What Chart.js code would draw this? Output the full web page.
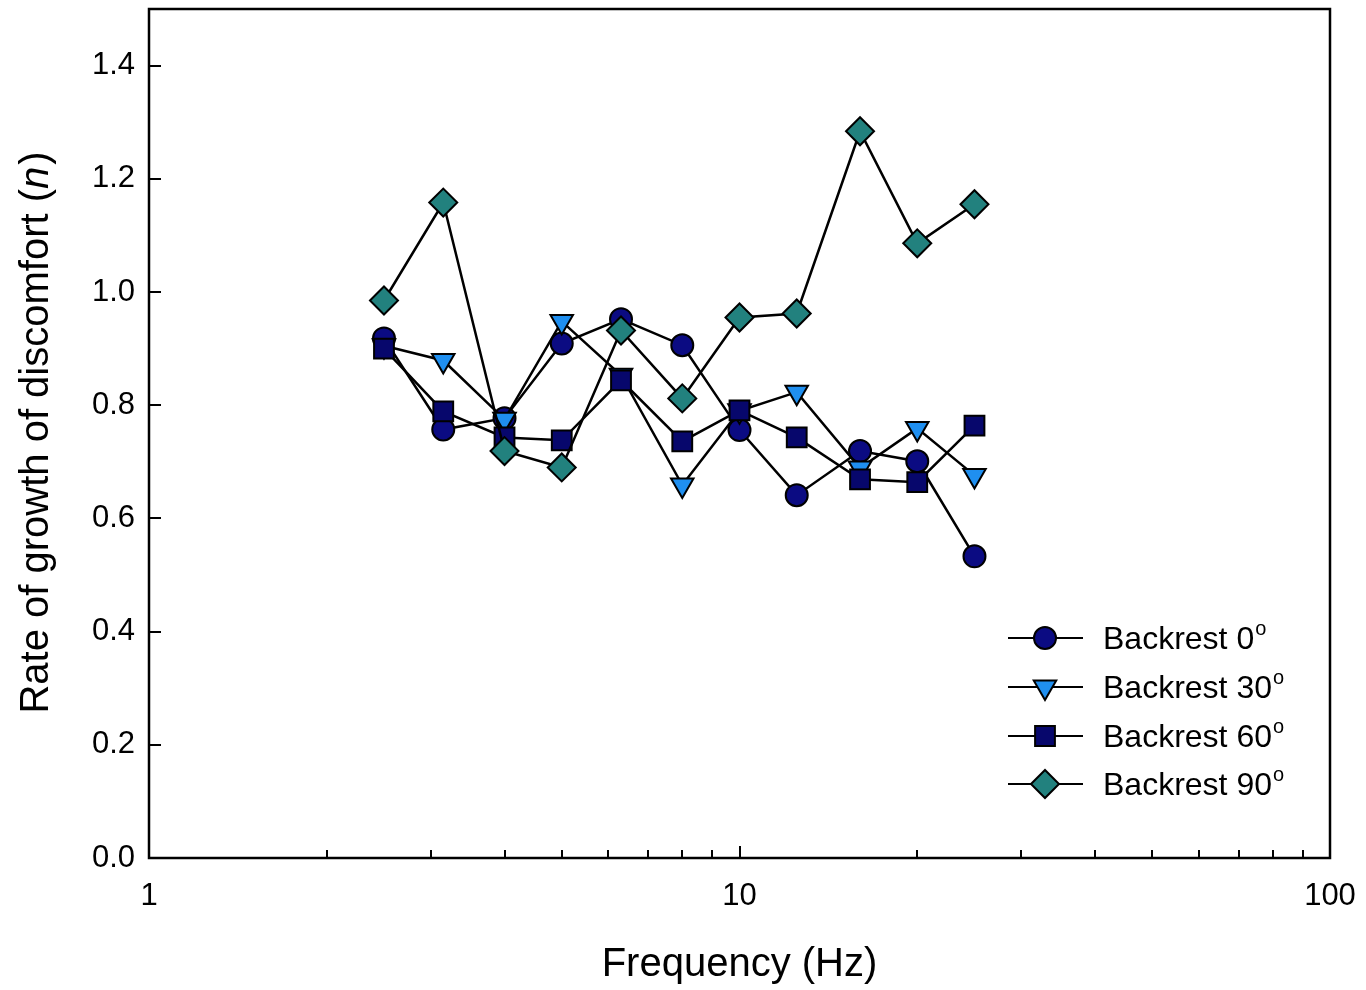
<!DOCTYPE html>
<html>
<head>
<meta charset="utf-8">
<script src="https://cdn.jsdelivr.net/npm/chart.js@4/dist/chart.umd.min.js"></script>
<style>
  html, body { margin: 0; padding: 0; background: #fff; }
  #wrap { width: 1366px; height: 990px; }
</style>
</head>
<body>
<div id="wrap"><canvas id="c" width="1366" height="990"></canvas></div>
<script>
// Third-octave centre frequencies (Hz)
const frequencies = [2.5, 3.15, 4, 5, 6.3, 8, 10, 12.5, 16, 20, 25];

// Rate of growth of discomfort, n, for each backrest inclination
const backrest0  = [0.918, 0.757, 0.777, 0.909, 0.952, 0.906, 0.756, 0.641, 0.719, 0.701, 0.533];
const backrest30 = [0.905, 0.879, 0.775, 0.948, 0.853, 0.659, 0.790, 0.823, 0.689, 0.759, 0.676];
const backrest60 = [0.900, 0.789, 0.743, 0.738, 0.844, 0.736, 0.791, 0.743, 0.669, 0.664, 0.764];
const backrest90 = [0.985, 1.158, 0.719, 0.690, 0.932, 0.812, 0.955, 0.962, 1.284, 1.086, 1.155];

const seriesNames = ['Backrest 0', 'Backrest 30', 'Backrest 60', 'Backrest 90'];
const xTickValues = [1, 10, 100];
const yTickValues = [0, 0.2, 0.4, 0.6, 0.8, 1.0, 1.2, 1.4];

const FONT = '"Liberation Sans", Arial, Helvetica, sans-serif';

function pts(values) {
  return frequencies.map((f, i) => ({ x: f, y: values[i] }));
}

function series(label, values, style, fill, radius, rotation, order) {
  return {
    label, data: pts(values),
    borderColor: '#000', borderWidth: 2.5,
    pointStyle: style, pointRotation: rotation,
    pointRadius: radius, pointHoverRadius: radius,
    pointBackgroundColor: fill, pointBorderColor: '#000', pointBorderWidth: 2,
    tension: 0, fill: false, order
  };
}

const datasets = [
  series(seriesNames[0], backrest0,  'circle',   '#0b0b82', 11,   0,   4),
  series(seriesNames[1], backrest30, 'triangle', '#1f8ff0', 13,   180, 3),
  series(seriesNames[2], backrest60, 'rect',     '#07076c', 14,   0,   2),
  series(seriesNames[3], backrest90, 'rectRot',  '#22817e', 14,   0,   1)
];

// Frame, inward ticks, axis titles and the in-plot legend
const decorations = {
  id: 'decorations',
  afterDraw(chart) {
    const ctx = chart.ctx;
    const a = chart.chartArea;
    const xs = chart.scales.x, ys = chart.scales.y;
    ctx.save();
    ctx.strokeStyle = '#000';
    ctx.lineWidth = 2.5;
    ctx.strokeRect(a.left, a.top, a.right - a.left, a.bottom - a.top);

    // y ticks (inward)
    ctx.lineWidth = 2;
    ctx.beginPath();
    yTickValues.forEach(v => {
      const py = Math.round(ys.getPixelForValue(v));
      ctx.moveTo(a.left, py); ctx.lineTo(a.left + 12, py);
    });
    // x ticks (inward), minor at 2..9 per decade
    for (let dec = 1; dec < 100; dec *= 10) {
      for (let k = 1; k <= 10; k++) {
        const v = dec * k;
        const px = Math.round(xs.getPixelForValue(v));
        const len = (k === 1 || k === 10) ? 12 : 8;
        ctx.moveTo(px, a.bottom); ctx.lineTo(px, a.bottom - len);
      }
    }
    ctx.stroke();

    // axis titles
    ctx.fillStyle = '#000';
    ctx.font = '40px ' + FONT;
    ctx.textAlign = 'center';
    ctx.textBaseline = 'middle';
    ctx.fillText('Frequency (Hz)', (a.left + a.right) / 2, 965);

    ctx.save();
    ctx.translate(37, (a.top + a.bottom) / 2);
    ctx.rotate(-Math.PI / 2);
    const pre = 'Rate of growth of discomfort (';
    const it = 'n';
    const post = ')';
    ctx.font = '40px ' + FONT;
    const wPre = ctx.measureText(pre).width;
    const wPost = ctx.measureText(post).width;
    ctx.font = 'italic 40px ' + FONT;
    const wIt = ctx.measureText(it).width;
    let x0 = -(wPre + wIt + wPost) / 2;
    ctx.textAlign = 'left';
    ctx.font = '40px ' + FONT;
    ctx.fillText(pre, x0, 0);
    ctx.font = 'italic 40px ' + FONT;
    ctx.fillText(it, x0 + wPre, 0);
    ctx.font = '40px ' + FONT;
    ctx.fillText(post, x0 + wPre + wIt + 2, 0);
    ctx.restore();

    // legend
    const rowY = [638, 687, 736, 784];
    chart.data.datasets.forEach((ds, i) => {
      const y = rowY[i];
      ctx.strokeStyle = '#000';
      ctx.lineWidth = 2;
      ctx.beginPath();
      ctx.moveTo(1008, y); ctx.lineTo(1083, y);
      ctx.stroke();
      ctx.fillStyle = ds.pointBackgroundColor;
      ctx.strokeStyle = '#000';
      ctx.lineWidth = 2;
      Chart.helpers.drawPoint(ctx, {
        pointStyle: ds.pointStyle, rotation: ds.pointRotation,
        radius: ds.pointRadius, borderWidth: 2
      }, 1045, y);
      ctx.fillStyle = '#000';
      ctx.font = '32px ' + FONT;
      ctx.textAlign = 'left';
      ctx.textBaseline = 'middle';
      ctx.fillText(ds.label, 1103, y + 2);
      const w = ctx.measureText(ds.label).width;
      ctx.font = '20px ' + FONT;
      ctx.fillText('o', 1103 + w + 1, y - 9);
    });
    ctx.restore();
  }
};

new Chart(document.getElementById('c'), {
  type: 'line',
  data: { datasets },
  options: {
    responsive: false,
    animation: false,
    devicePixelRatio: 1,
    layout: { autoPadding: false, padding: { top: 9, right: 36, left: 0, bottom: 0 } },
    plugins: { legend: { display: false }, tooltip: { enabled: false } },
    scales: {
      x: {
        type: 'logarithmic', min: 1, max: 100,
        afterBuildTicks: s => { s.ticks = xTickValues.map(v => ({ value: v })); },
        afterFit: s => {
          s.height = 132;
          s.paddingLeft = 0; s.paddingRight = 0;
        },
        grid: { display: false, drawTicks: false },
        border: { display: false },
        ticks: {
          color: '#000', font: { family: FONT, size: 31 }, padding: 20,
          maxRotation: 0, autoSkip: false,
          callback: v => String(v)
        }
      },
      y: {
        type: 'linear', min: 0, max: 1.5,
        afterBuildTicks: s => { s.ticks = yTickValues.map(v => ({ value: v })); },
        afterFit: s => {
          s.width = 149;
          s.paddingTop = 0; s.paddingBottom = 0;
        },
        grid: { display: false, drawTicks: false },
        border: { display: false },
        ticks: {
          color: '#000', font: { family: FONT, size: 31 }, padding: 14,
          callback: v => Number(v).toFixed(1)
        }
      }
    }
  },
  plugins: [decorations]
});
</script>
</body>
</html>
